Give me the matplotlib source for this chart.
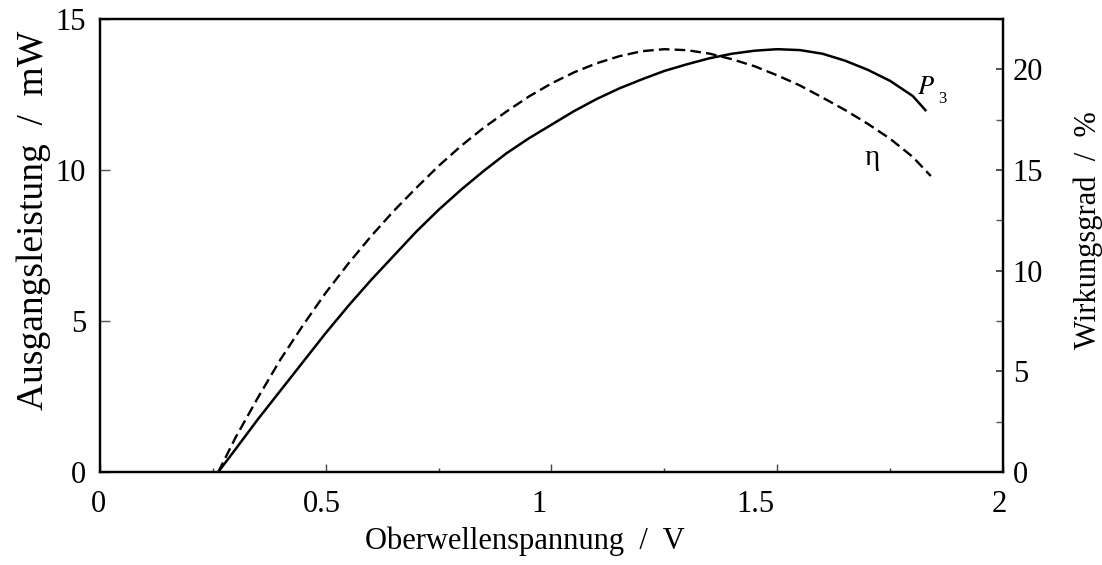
import matplotlib
matplotlib.use("Agg")
import matplotlib.pyplot as plt
from matplotlib.ticker import MultipleLocator, FuncFormatter
from matplotlib.transforms import ScaledTranslation

plt.rcParams['font.family'] = ['Liberation Serif', 'DejaVu Serif']
plt.rcParams['mathtext.fontset'] = 'stix'

# Output power P3 (mW) versus harmonic voltage (V)
u_p = [0.262, 0.30, 0.35, 0.40, 0.45, 0.50, 0.55, 0.60, 0.65, 0.70, 0.75,
       0.80, 0.85, 0.90, 0.95, 1.00, 1.05, 1.10, 1.15, 1.20, 1.25, 1.30,
       1.35, 1.40, 1.45, 1.50, 1.55, 1.60, 1.65, 1.70, 1.75, 1.80, 1.83]
p3 = [0.0, 0.75, 1.75, 2.7, 3.65, 4.6, 5.5, 6.35, 7.15, 7.95, 8.68,
      9.35, 9.97, 10.55, 11.05, 11.5, 11.95, 12.35, 12.7, 13.0, 13.28, 13.5,
      13.7, 13.85, 13.95, 14.0, 13.97, 13.85, 13.62, 13.32, 12.95, 12.45, 11.95]

# Efficiency eta (%) versus harmonic voltage (V)
u_eta = [0.262, 0.30, 0.35, 0.40, 0.45, 0.50, 0.55, 0.60, 0.65, 0.70, 0.75,
         0.80, 0.85, 0.90, 0.95, 1.00, 1.05, 1.10, 1.15, 1.20, 1.25, 1.30,
         1.35, 1.40, 1.45, 1.50, 1.55, 1.60, 1.65, 1.70, 1.75, 1.80, 1.84]
eta = [0.0, 1.7, 3.7, 5.6, 7.3, 8.9, 10.35, 11.7, 12.95, 14.1, 15.2,
       16.2, 17.1, 17.9, 18.65, 19.3, 19.85, 20.3, 20.65, 20.9, 21.0, 20.95,
       20.78, 20.5, 20.15, 19.7, 19.2, 18.6, 17.98, 17.3, 16.55, 15.65, 14.7]

x_ticks = [0, 0.5, 1, 1.5, 2]
left_ticks = [0, 5, 10, 15]
right_ticks = [0, 5, 10, 15, 20]

fig = plt.figure(figsize=(11.02, 5.65), dpi=100)
ax = fig.add_axes([0.0907, 0.1646, 0.8195, 0.8018])
ax2 = ax.twinx()

ax.plot(u_p, p3, color='black', lw=1.8, solid_capstyle='butt')
ax2.plot(u_eta, eta, color='black', lw=1.7, dashes=(4.5, 2.2))

ax.set_xlim(0, 2)
ax.set_ylim(0, 15)
ax2.set_ylim(0, 22.5)

fs = 22
ax.set_xticks(x_ticks)
ax.xaxis.set_minor_locator(MultipleLocator(0.25))
ax.xaxis.set_major_formatter(FuncFormatter(lambda v, p: ('%g' % v)))
ax.set_yticks(left_ticks)
ax2.set_yticks(right_ticks)
ax2.yaxis.set_minor_locator(MultipleLocator(2.5))

ax.tick_params(axis='x', which='major', direction='in', length=6, width=1,
               color='#444444', labelsize=fs, pad=13)
ax.tick_params(axis='x', which='minor', direction='in', length=3, width=1,
               color='#444444')
ax.tick_params(axis='y', which='major', direction='in', length=7, width=1,
               color='#555555', labelsize=fs, pad=10)
ax2.tick_params(axis='y', which='major', direction='in', length=5, width=1.2,
                color='#333333', labelsize=fs, pad=7)
ax2.tick_params(axis='y', which='minor', direction='in', length=5, width=1,
                color='#555555')

# slight horizontal placement of the x tick labels (pixels)
x_label_shift = [-2, -4, -12, -22, -4]
for lab, dx in zip(ax.get_xticklabels(), x_label_shift):
    lab.set_transform(lab.get_transform() +
                      ScaledTranslation(dx / 100, 0, fig.dpi_scale_trans))

for a in (ax, ax2):
    for s in a.spines.values():
        s.set_linewidth(1.6)
        s.set_color('black')

ax.set_xlabel('Oberwellenspannung  /  V', fontsize=fs)
ax.xaxis.set_label_coords(0.4707, -0.12)
ax.set_ylabel('Ausgangsleistung  /  mW', fontsize=27)
ax.yaxis.set_label_coords(-0.0545, 0.556)
ax2.set_ylabel('Wirkungsgrad  /  %', fontsize=fs)
ax2.yaxis.set_label_coords(1.0775, 0.534)

ax.text(1.81, 12.7, r'$P$', fontsize=19, ha='left', va='center')
ax.text(1.857, 12.35, '3', fontsize=12, ha='left', va='center')
ax2.text(1.71, 15.6, 'η', fontsize=21, ha='center', va='center')

fig.savefig('out.png', dpi=100)
